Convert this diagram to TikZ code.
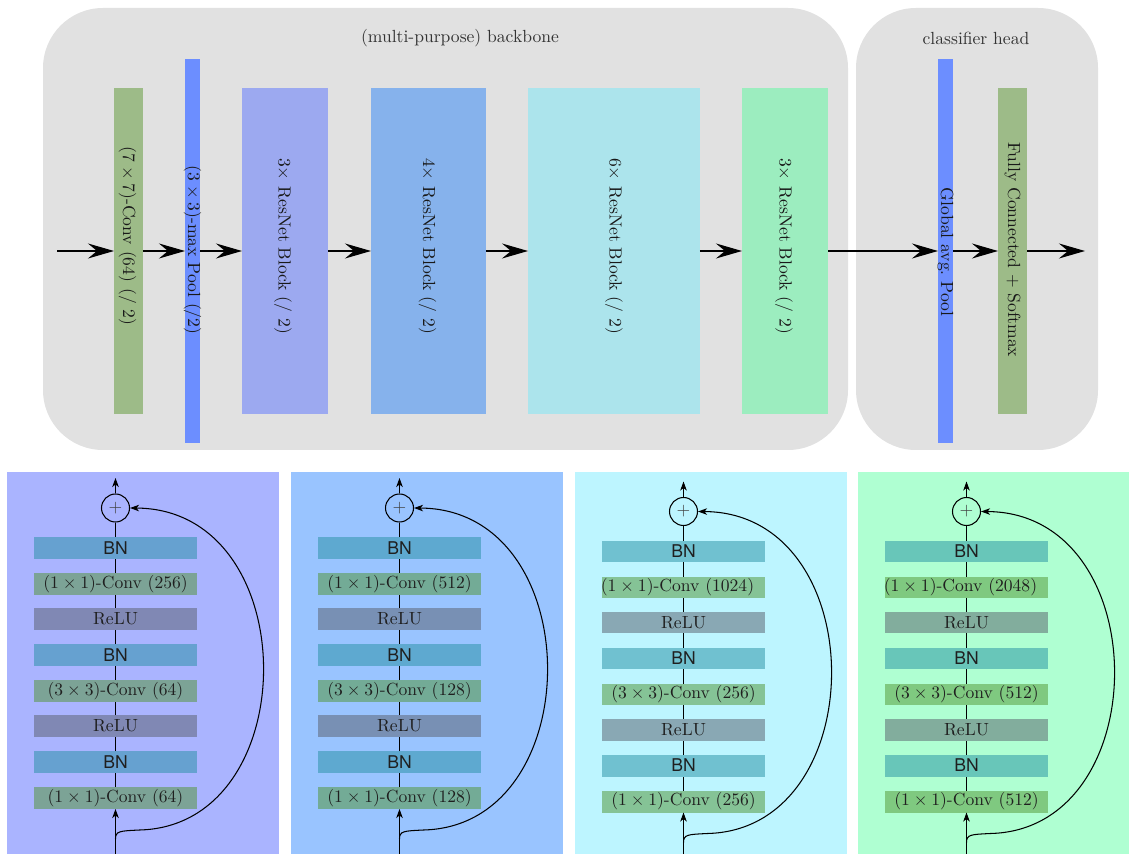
\documentclass[tikz,border=0pt]{standalone}
\usepackage{fontspec}
\newfontfamily\heros{TeX Gyre Heros}
\usetikzlibrary{arrows.meta}

% stage colours
\definecolor{groupgray}{HTML}{E1E1E1}
\definecolor{convgreen}{HTML}{9DBB88}
\definecolor{poolblue}{HTML}{6C8EFF}
\definecolor{resA}{HTML}{9CA9F0}
\definecolor{resB}{HTML}{86B2EC}
\definecolor{resC}{HTML}{ACE4EC}
\definecolor{resD}{HTML}{9CEDBF}
% block panels
\definecolor{panelA}{HTML}{AAB4FF}
\definecolor{panelB}{HTML}{99C4FF}
\definecolor{panelC}{HTML}{BDF5FF}
\definecolor{panelD}{HTML}{AFFFD2}
% layer tints (mixed half-and-half with the panel colour)
\definecolor{bnbase}{RGB}{34,142,161}
\definecolor{convbase}{RGB}{78,146,45}
\definecolor{relubase}{RGB}{86,92,105}

\begin{document}
\begin{tikzpicture}[x=0.02cm, y=-0.02cm,
  group/.style={fill=groupgray, rounded corners=1.2cm},
  grouptitle/.style={text=black!80, inner sep=1pt},
  blk/.style={inner sep=0pt, outer sep=0pt, draw=none},
  vlabel/.style={rotate=-90, inner sep=0pt, text=black!90},
  bigarrow/.style={line width=0.8pt, -{Stealth[length=5.2mm,width=3mm,inset=1.8mm]}},
  smallarrow/.style={line width=0.6pt, -{Stealth[length=1.8mm,width=1.3mm,inset=0.5mm]}},
  thinline/.style={line width=0.6pt},
  op/.style={inner sep=0pt, outer sep=0pt, minimum width=3.28cm, minimum height=0.44cm, text=black!88},
  sumnode/.style={circle, draw, line width=0.6pt, minimum size=0.56cm, inner sep=0pt, text=black!75}
]
\useasboundingbox (0,0) rectangle (1129,854);

% ---------- overview ----------
\fill[group] (43,8) rectangle (848,450);
\fill[group] (856,8) rectangle (1098,450);
\node[grouptitle] (ttl-backbone) at (460,38) {(multi-purpose) backbone};
\node[grouptitle] (ttl-head) at (976,38) {classifier head};

\node[blk, fill=convgreen, minimum width=0.58cm, minimum height=6.52cm] (conv7) at (128.5,251) {};
\node[blk, fill=poolblue, minimum width=0.30cm, minimum height=7.70cm] (pool) at (192.5,251) {};
\node[blk, fill=resA, minimum width=1.72cm, minimum height=6.52cm] (res1) at (285,251) {};
\node[blk, fill=resB, minimum width=2.30cm, minimum height=6.52cm] (res2) at (428.5,251) {};
\node[blk, fill=resC, minimum width=3.44cm, minimum height=6.52cm] (res3) at (614,251) {};
\node[blk, fill=resD, minimum width=1.72cm, minimum height=6.52cm] (res4) at (785,251) {};
\node[blk, fill=poolblue, minimum width=0.30cm, minimum height=7.70cm] (gap) at (945.5,251) {};
\node[blk, fill=convgreen, minimum width=0.58cm, minimum height=6.52cm] (fc) at (1012.5,251) {};

\coordinate (src) at (57,251);
\coordinate (dst) at (1085,251);
\draw[bigarrow] (src) -- (conv7.west);
\draw[bigarrow] (conv7.east) -- (pool.west);
\draw[bigarrow] (pool.east) -- (res1.west);
\draw[bigarrow] (res1.east) -- (res2.west);
\draw[bigarrow] (res2.east) -- (res3.west);
\draw[bigarrow] (res3.east) -- (res4.west);
\draw[bigarrow] (res4.east) -- (gap.west);
\draw[bigarrow] (gap.east) -- (fc.west);
\draw[bigarrow] (fc.east) -- (dst);

\node[vlabel] (conv7-l) at (127.5,236) {$(7\times7)$-Conv (64) (/ 2)};
\node[vlabel] (pool-l) at (192.5,250) {$(3\times3)$-max Pool (/2)};
\node[vlabel] (res1-l) at (283,246) {$3\times$ ResNet Block (/ 2)};
\node[vlabel] (res2-l) at (427.5,246) {$4\times$ ResNet Block (/ 2)};
\node[vlabel] (res3-l) at (614,246) {$6\times$ ResNet Block (/ 2)};
\node[vlabel] (res4-l) at (784,246) {$3\times$ ResNet Block (/ 2)};
\node[vlabel] (gap-l) at (945.5,252) {Global avg.\ Pool};
\node[vlabel] (fc-l) at (1012.5,250) {Fully Connected + Softmax};

% ---------- bottleneck blocks of the four stages ----------
\foreach \i/\ox/\dy/\pc/\na/\nb/\nc/\cs in {%
  1/7/0/panelA/64/64/256/0,
  2/291/0/panelB/128/128/512/0,
  3/575/3.5/panelC/256/256/1024/-6,
  4/858/3.5/panelD/512/512/2048/-6}{
  \fill[\pc] (\ox,472) rectangle ++(272,390);
  \begin{scope}[shift={(\ox+108.5,\dy)}]
    \node[op, fill=convbase!50!\pc] (ca-\i) at (0,798) {$(1\times1)$-Conv (\na)};
    \node[op, fill=bnbase!50!\pc, font=\heros] (bna-\i) at (0,762) {BN};
    \node[op, fill=relubase!50!\pc] (ra-\i) at (0,726) {ReLU};
    \node[op, fill=convbase!50!\pc] (cb-\i) at (0,691) {$(3\times3)$-Conv (\nb)};
    \node[op, fill=bnbase!50!\pc, font=\heros] (bnb-\i) at (0,655) {BN};
    \node[op, fill=relubase!50!\pc] (rb-\i) at (0,619) {ReLU};
    \node[op, fill=convbase!50!\pc] (cc-\i) at (0,584) {};
    \node[inner sep=0pt, text=black!88] (cct-\i) at (\cs,584) {$(1\times1)$-Conv (\nc)};
    \node[op, fill=bnbase!50!\pc, font=\heros] (bnc-\i) at (0,548) {BN};
    \node[sumnode] (sum-\i) at (0,508) {$+$};

    \coordinate (in-\i) at (0,870);
    \coordinate (fork-\i) at (0,839);
    \coordinate (out-\i) at (0,478);

    \draw[thinline] (ca-\i.north) -- (bna-\i.south);
    \draw[thinline] (bna-\i.north) -- (ra-\i.south);
    \draw[thinline] (ra-\i.north) -- (cb-\i.south);
    \draw[thinline] (cb-\i.north) -- (bnb-\i.south);
    \draw[thinline] (bnb-\i.north) -- (rb-\i.south);
    \draw[thinline] (rb-\i.north) -- (cc-\i.south);
    \draw[thinline] (cc-\i.north) -- (bnc-\i.south);
    \draw[thinline] (bnc-\i.north) -- (sum-\i.south);
    \draw[smallarrow] (sum-\i.north) -- (out-\i);
    \draw[smallarrow] (in-\i) -- (ca-\i.south);
    % identity shortcut
    \draw[smallarrow] (fork-\i) .. controls (0,831) and (4,831) .. (24,830)
      .. controls (190,826) and (190,509) .. (sum-\i.east);
  \end{scope}
}
\end{tikzpicture}
\end{document}
